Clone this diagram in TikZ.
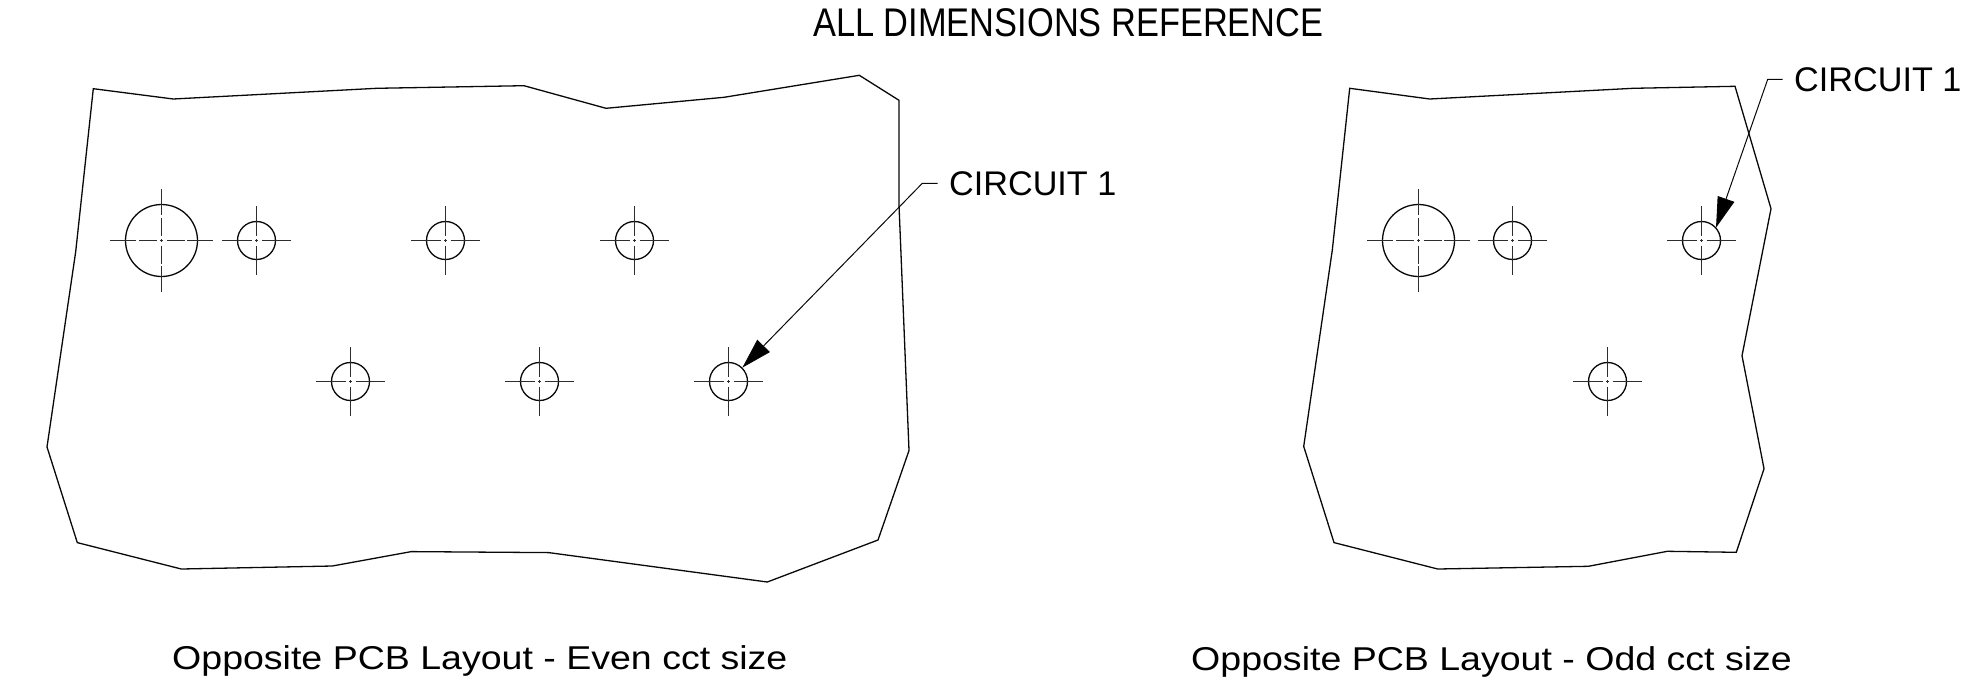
\documentclass[tikz,border=0pt]{standalone}
\usepackage{fontspec}
\setmainfont{Liberation Sans}
\newfontfamily\titlefont[FakeStretch=0.86]{Liberation Sans}
\newfontfamily\capfont[FakeStretch=1.137]{Liberation Sans}
\usetikzlibrary{arrows.meta}
\definecolor{ink}{gray}{0.03}
\tikzset{
  outline/.style={draw=ink,line width=1.3pt,line join=miter},
  centerline/.style={draw=ink!85,line width=1pt},
  holeedge/.style={draw=ink,line width=1.3pt},
  leader/.style={draw=ink,line width=1pt},
  label/.style={inner sep=0pt,anchor=base west,font=\fontsize{34.2}{36}\selectfont,text=black},
  smallhole/.pic={
    \draw[holeedge] (0,0) circle (19);
    \foreach \a in {0,90,180,270}{
      \draw[centerline,rotate=\a] (5,0) -- (34.3,0);
      \draw[centerline,rotate=\a] (0,0) -- (1.5,0);
    }
  },
  bighole/.pic={
    \draw[holeedge] (0,0) circle (36);
    \foreach \a in {0,90,180,270}{
      \draw[centerline,rotate=\a] (0,0) -- (1.5,0);
      \draw[centerline,rotate=\a] (5,0) -- (23,0);
      \draw[centerline,rotate=\a] (25.5,0) -- (51.3,0);
    }
  }
}
\begin{document}
\begin{tikzpicture}[x=1pt,y=-1pt]
\useasboundingbox (0,0) rectangle (1977,699);
\fill[white] (0,0) rectangle (1977,699);

\node[inner sep=0pt,anchor=base west,text=black] (title) at (813,36.7) {\fontsize{40}{42}\titlefont ALL DIMENSIONS REFERENCE};

% left board
\draw[outline] (93.3,88.7) -- (173.3,99) -- (376.7,88.3) -- (524,85.7) -- (606,108.3) -- (724,97.3) -- (859.3,75.3) -- (899,100.3) -- (899,205) -- (909,450.5) -- (878,540) -- (767.3,582) -- (548.7,552.6) -- (411.3,551.6) -- (332.3,566) -- (181.3,569) -- (77.3,542.6) -- (47,447) -- (75.7,251.7) -- cycle;

\pic at (161.5,240.5) {bighole};
\pic at (256.5,240.5) {smallhole};
\pic at (445.5,240.5) {smallhole};
\pic at (634.5,240.5) {smallhole};
\pic at (350.5,381.5) {smallhole};
\pic at (539.5,381.5) {smallhole};
\pic at (728.5,381.5) {smallhole};

% right board
\draw[outline] (1349.7,88.3) -- (1429.7,99) -- (1633.3,88.3) -- (1735,86.3) -- (1771,208.7) -- (1742,355.7) -- (1764,468.7) -- (1736.3,552.3) -- (1667.3,551.3) -- (1588.3,566.3) -- (1437.7,569) -- (1334,542.6) -- (1303.7,446.4) -- (1332.3,250) -- cycle;

\pic at (1418.5,240.5) {bighole};
\pic at (1512.5,240.5) {smallhole};
\pic at (1701.5,240.5) {smallhole};
\pic at (1607.5,381.5) {smallhole};

% leaders
\node[label] (circuitL) at (949,195) {CIRCUIT 1};
\node[label] (circuitR) at (1794,91.7) {CIRCUIT 1};
\coordinate (tailL) at (937.7,183.3);
\coordinate (kneeL) at (922.3,183.3);
\coordinate (tipL) at (742.3,367.7);
\coordinate (tailR) at (1782.7,79.3);
\coordinate (kneeR) at (1767.7,79.3);
\coordinate (tipR) at (1716,227.7);
\draw[leader,-{Triangle[length=30.5pt,width=17.5pt,fill=black]}] (tailL) -- (kneeL) -- (tipL);
\draw[leader,-{Triangle[length=30.5pt,width=17.5pt,fill=black]}] (tailR) -- (kneeR) -- (tipR);

% captions
\node[inner sep=0pt,anchor=base west,text=black] (capL) at (172,669) {\fontsize{33}{36}\capfont Opposite PCB Layout - Even cct size};
\node[inner sep=0pt,anchor=base west,text=black] (capR) at (1191,670) {\fontsize{33}{36}\capfont Opposite PCB Layout - Odd cct size};
\end{tikzpicture}
\end{document}
